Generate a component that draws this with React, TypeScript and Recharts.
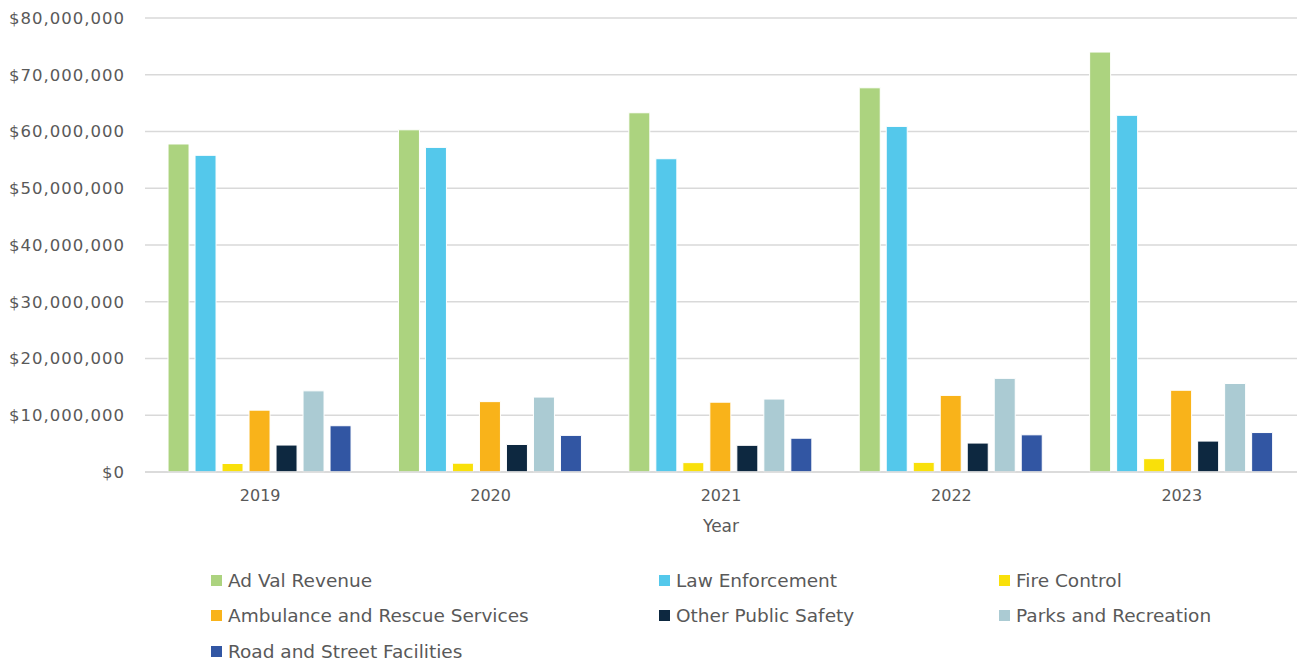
import { BarChart, Bar, XAxis, YAxis, CartesianGrid } from 'recharts'

const years = ['2019', '2020', '2021', '2022', '2023']
const adVal = [57.8, 60.3, 63.3, 67.7, 74.0]
const lawEnforcement = [55.8, 57.2, 55.2, 60.9, 62.85]
const fireControl = [1.5, 1.55, 1.65, 1.7, 2.35]
const ambulance = [10.9, 12.4, 12.3, 13.5, 14.4]
const otherSafety = [4.75, 4.85, 4.7, 5.1, 5.45]
const parks = [14.3, 13.2, 12.85, 16.5, 15.6]
const roads = [8.15, 6.45, 5.95, 6.55, 6.95]
const yTicks = [0, 10, 20, 30, 40, 50, 60, 70, 80]

const series = [
  { key: 'adVal', name: 'Ad Val Revenue', color: '#acd37f', values: adVal },
  { key: 'law', name: 'Law Enforcement', color: '#54c8eb', values: lawEnforcement },
  { key: 'fire', name: 'Fire Control', color: '#f9e00a', values: fireControl },
  { key: 'amb', name: 'Ambulance and Rescue Services', color: '#f9b31a', values: ambulance },
  { key: 'other', name: 'Other Public Safety', color: '#0d2840', values: otherSafety },
  { key: 'parks', name: 'Parks and Recreation', color: '#abcbd3', values: parks },
  { key: 'roads', name: 'Road and Street Facilities', color: '#3256a3', values: roads },
]

const data = years.map((year, i) => {
  const row: any = { year }
  series.forEach((s) => {
    row[s.key] = s.values[i] * 1000000
  })
  return row
})

const FONT = '"DejaVu Sans", "Open Sans", sans-serif'
const TEXT = '#595959'
// legend columns (left edge of swatch)
const legendCols = [211, 659, 999]

const money = (v: number) => '$' + v.toLocaleString('en-US')

export default function App() {
  return (
    <div style={{ position: 'absolute', left: 0, top: 0, width: 1297, height: 664, background: '#fff', fontFamily: FONT }}>
      <BarChart
        width={1297}
        height={540}
        data={data}
        margin={{ top: 18, right: 0, left: 0, bottom: 8 }}
        barCategoryGap="10%"
        barGap={6}
      >
        <CartesianGrid vertical={false} stroke="#d9d9d9" strokeWidth={1.5} />
        <XAxis
          dataKey="year"
          height={60}
          tickLine={false}
          axisLine={{ stroke: '#d9d9d9', strokeWidth: 1.5 }}
          tick={{ fill: TEXT, fontSize: 16, fontFamily: FONT }}
          tickMargin={12}
          label={{ value: 'Year', position: 'insideBottom', offset: 0, fill: TEXT, fontSize: 17, fontFamily: FONT }}
        />
        <YAxis
          width={145}
          domain={[0, 80000000]}
          ticks={yTicks.map((t) => t * 1000000)}
          tickFormatter={money}
          tickLine={false}
          axisLine={false}
          tickMargin={14}
          tick={{ fill: TEXT, fontSize: 16.5, fontFamily: FONT, letterSpacing: 1 }}
        />
        {series.map((s) => (
          <Bar
            key={s.key}
            dataKey={s.key}
            name={s.name}
            fill={s.color}
            stroke="#ffffff"
            strokeWidth={1}
            isAnimationActive={false}
          />
        ))}
      </BarChart>
      {series.map((s, i) => (
        <div
          key={s.key}
          style={{
            position: 'absolute',
            left: legendCols[i % 3],
            top: 580 + Math.floor(i / 3) * 35.5 - 13,
            height: 26,
            display: 'flex',
            alignItems: 'center',
            whiteSpace: 'nowrap',
          }}
        >
          <span style={{ width: 11, height: 11, background: s.color, marginRight: 6, display: 'inline-block' }} />
          <span style={{ color: TEXT, fontSize: 18.5 }}>{s.name}</span>
        </div>
      ))}
    </div>
  )
}
